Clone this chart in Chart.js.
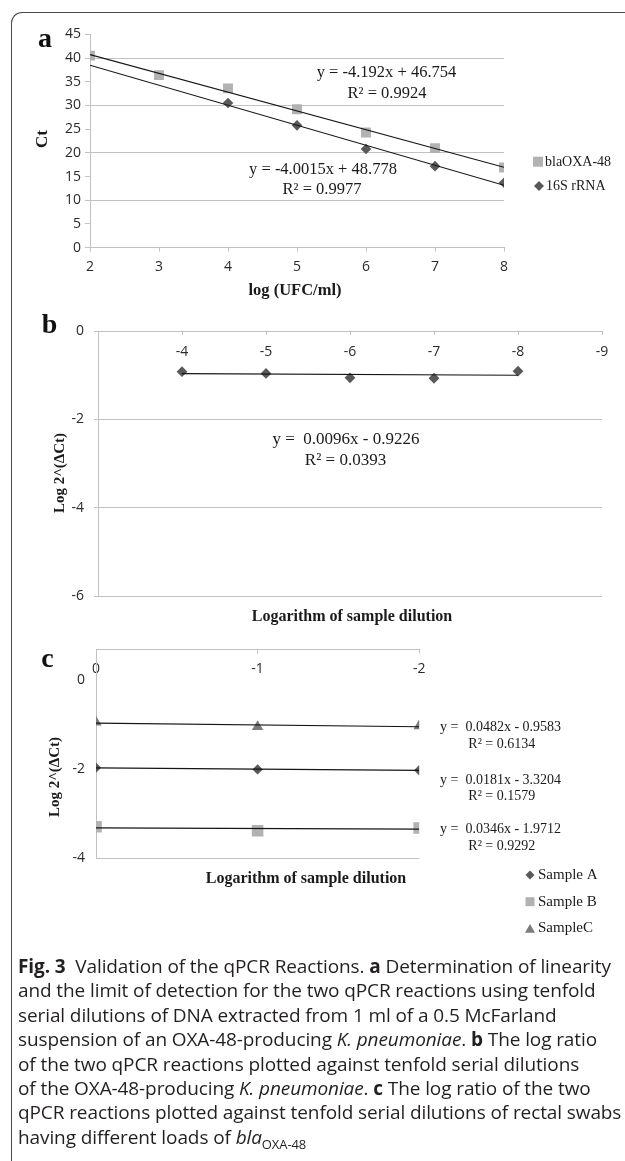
<!DOCTYPE html>
<html>
<head>
<meta charset="utf-8">
<script src="https://cdn.jsdelivr.net/npm/chart.js@4.4.1/dist/chart.umd.min.js"></script>
<style>
  body { margin: 0; background: #fff; width: 625px; height: 1161px; overflow: hidden; position: relative; }
  .frame { position: absolute; left: 11px; top: 12px; width: 700px; height: 1200px;
           border-top: 1.5px solid #4a4a4a; border-left: 1.5px solid #4a4a4a; border-top-left-radius: 11px; }
  canvas { position: absolute; left: 0; }
  #caption { position: absolute; left: 18px; top: 954px; font-family: 'Open Sans'; font-size: 19px;
             line-height: 24.4px; color: #231f20; white-space: nowrap; letter-spacing: -0.1px; }
</style>
</head>
<body>
<div class="frame"></div>
<canvas id="chartA" width="625" height="300" style="top:0px"></canvas>
<canvas id="chartB" width="625" height="330" style="top:300px"></canvas>
<canvas id="chartC" width="625" height="330" style="top:630px"></canvas>
<div id="caption"><b>Fig. 3</b>&nbsp; Validation of the qPCR Reactions. <b>a</b> Determination of linearity<br>and the limit of detection for the two qPCR reactions using tenfold<br>serial dilutions of DNA extracted from 1 ml of a 0.5 McFarland<br>suspension of an OXA-48-producing <i>K. pneumoniae</i>. <b>b</b> The log ratio<br>of the two qPCR reactions plotted against tenfold serial dilutions<br>of the OXA-48-producing <i>K. pneumoniae</i>. <b>c</b> The log ratio of the two<br>qPCR reactions plotted against tenfold serial dilutions of rectal swabs<br>having different loads of <i>bla</i><sub style="font-size:13px">OXA-48</sub></div>
<script>
// panel a: Ct vs log(UFC/ml)
const aLogUfc = [2, 3, 4, 5, 6, 7, 8];
const aBlaOxa48 = [40.5, 36.4, 33.6, 29.2, 24.3, 21.0, 16.9];
const a16sLogUfc = [4, 5, 6, 7, 8];
const a16sRrna = [30.5, 25.8, 20.8, 17.2, 13.7];
const aEquations = ['y = -4.192x + 46.754', 'R² = 0.9924', 'y = -4.0015x + 48.778', 'R² = 0.9977'];
const aLegend = ['blaOXA-48', '16S rRNA'];

// panel b: log ratio vs dilution
const bDilution = [-4, -5, -6, -7, -8];
const bLogRatio = [-0.92, -0.96, -1.06, -1.07, -0.91];
const bEquations = ['y =  0.0096x - 0.9226', 'R² = 0.0393'];

// panel c: rectal swabs
const cDilution = [0, -1, -2];
const cSampleA = [-1.96, -2.00, -2.02];
const cSampleB = [-3.29, -3.38, -3.32];
const cSampleC = [-0.94, -1.04, -1.02];
const cYTicks = [0, -2, -4];
const cEquations = ['y =  0.0482x - 0.9583', 'R² = 0.6134', 'y =  0.0181x - 3.3204', 'R² = 0.1579', 'y =  0.0346x - 1.9712', 'R² = 0.9292'];
const cLegend = ['Sample A', 'Sample B', 'SampleC'];

const SQUARE = '#b2b2b2';
const DIAMOND = '#595959';
const TRIANGLE = '#7b7b7b';
const AXIS = '#c2c2c2';
const TICK_FONT = { family: 'Open Sans', size: 14 };
const TICK_COLOR = '#2a2a2a';
const SERIF = '"Liberation Serif", "Times New Roman", serif';

document.addEventListener('DOMContentLoaded', init);

function toPoints(xs, ys) {
    return xs.map((x, i) => ({ x: x, y: ys[i] }));
}

// least squares line through the series, evaluated at the two ends
function trendLine(xs, ys, from, to) {
    const n = xs.length;
    const mx = xs.reduce((s, v) => s + v, 0) / n;
    const my = ys.reduce((s, v) => s + v, 0) / n;
    let sxy = 0, sxx = 0;
    xs.forEach((x, i) => {
        sxy += (x - mx) * (ys[i] - my);
        sxx += (x - mx) * (x - mx);
    });
    const m = sxy / sxx;
    return [from, to].map(x => ({ x: x, y: my + m * (x - mx) }));
}

function trendSet(data) {
    return { data: data, showLine: true, borderColor: '#151515', borderWidth: 1.2, pointRadius: 0, fill: false };
}

function markerSet(data, style, color, radius) {
    return { data: data, showLine: false, pointStyle: style, pointRadius: radius,
             pointBackgroundColor: color, pointBorderColor: color, pointBorderWidth: 0 };
}

function text(ctx, str, x, y, font, align, angle) {
    ctx.save();
    ctx.font = font;
    ctx.fillStyle = '#1a1a1a';
    ctx.textAlign = align || 'center';
    ctx.textBaseline = 'middle';
    ctx.translate(x, y);
    if (angle) ctx.rotate(angle);
    ctx.fillText(str, 0, 0);
    ctx.restore();
}

function panelLetter(ctx, str, x, baseline) {
    ctx.save();
    ctx.font = 'bold 28px ' + SERIF;
    ctx.fillStyle = '#111';
    ctx.textAlign = 'center';
    ctx.textBaseline = 'alphabetic';
    ctx.fillText(str, x, baseline);
    ctx.restore();
}

function marker(ctx, style, x, y, size, color) {
    ctx.save();
    ctx.fillStyle = color;
    ctx.beginPath();
    if (style === 'rect') {
        ctx.rect(x - size / 2, y - size / 2, size, size);
    } else if (style === 'rectRot') {
        ctx.moveTo(x, y - size / 2);
        ctx.lineTo(x + size / 2, y);
        ctx.lineTo(x, y + size / 2);
        ctx.lineTo(x - size / 2, y);
    } else {
        const h = size * 0.87;
        ctx.moveTo(x, y - h / 2);
        ctx.lineTo(x + size / 2, y + h / 2);
        ctx.lineTo(x - size / 2, y + h / 2);
    }
    ctx.closePath();
    ctx.fill();
    ctx.restore();
}

function overlay(draw) {
    return { id: 'overlay', afterDraw: chart => draw(chart.ctx, chart) };
}

function baseOptions(padding, scales) {
    return {
        responsive: false,
        animation: false,
        events: [],
        layout: { padding: padding },
        plugins: { legend: { display: false }, tooltip: { enabled: false } },
        scales: scales
    };
}

function init() {
    const aCtx = document.getElementById('chartA');
    if (aCtx) {
        new Chart(aCtx, {
            type: 'scatter',
            data: {
                datasets: [
                    trendSet(trendLine(aLogUfc, aBlaOxa48, 2, 8)),
                    trendSet(trendLine(a16sLogUfc, a16sRrna, 2, 8)),
                    markerSet(toPoints(aLogUfc, aBlaOxa48), 'rect', SQUARE, 7),
                    markerSet(toPoints(a16sLogUfc, a16sRrna), 'rectRot', DIAMOND, 5.3)
                ]
            },
            options: baseOptions({ left: 0, top: 34.3, right: 121, bottom: 0 }, {
                x: {
                    type: 'linear', min: 2, max: 8,
                    ticks: { stepSize: 1, padding: 7, font: TICK_FONT, color: TICK_COLOR },
                    grid: { drawOnChartArea: false, tickLength: 4, tickColor: AXIS },
                    border: { color: AXIS },
                    afterFit: s => { s.height = 52.3; }
                },
                y: {
                    min: 0, max: 45,
                    ticks: { stepSize: 5, padding: 4, font: TICK_FONT, color: TICK_COLOR },
                    grid: {
                        color: c => (c.tick && c.tick.value > 0 && c.tick.value % 10 === 0) ? AXIS : 'rgba(0,0,0,0)',
                        tickColor: AXIS, tickLength: 5
                    },
                    border: { color: AXIS },
                    afterFit: s => { s.width = 90; }
                }
            }),
            plugins: [overlay(ctx => {
                panelLetter(ctx, 'a', 45, 47);
                text(ctx, 'Ct', 43, 139, 'bold 17px ' + SERIF, 'center', -Math.PI / 2);
                text(ctx, 'log (UFC/ml)', 295, 291, 'bold 16.5px ' + SERIF);
                text(ctx, aEquations[0], 386.5, 72.7, '16.5px ' + SERIF);
                text(ctx, aEquations[1], 387, 93.3, '16.5px ' + SERIF);
                text(ctx, aEquations[2], 323, 170, '16.5px ' + SERIF);
                text(ctx, aEquations[3], 322, 190, '16.5px ' + SERIF);
                marker(ctx, 'rect', 538, 161.7, 10, SQUARE);
                text(ctx, aLegend[0], 545, 162, '14px ' + SERIF, 'left');
                marker(ctx, 'rectRot', 539, 186, 10, DIAMOND);
                text(ctx, aLegend[1], 546, 186, '14px ' + SERIF, 'left');
            })]
        });
    }

    const bCtx = document.getElementById('chartB');
    if (bCtx) {
        new Chart(bCtx, {
            type: 'scatter',
            data: {
                datasets: [
                    trendSet(trendLine(bDilution, bLogRatio, -4, -8)),
                    markerSet(toPoints(bDilution, bLogRatio), 'rectRot', DIAMOND, 5.4)
                ]
            },
            options: baseOptions({ left: 0, top: 0, right: 23, bottom: 34 }, {
                x: {
                    type: 'linear', position: 'top', min: -9, max: -3, reverse: true,
                    ticks: { stepSize: 1, mirror: true, padding: 12.3, font: TICK_FONT, color: TICK_COLOR,
                             callback: v => (v === -3 ? '' : v) },
                    grid: { drawOnChartArea: false, tickLength: -4, tickColor: AXIS },
                    border: { color: AXIS },
                    afterFit: s => { s.height = 31; }
                },
                y: {
                    min: -6, max: 0,
                    ticks: { stepSize: 2, padding: 10, font: TICK_FONT, color: TICK_COLOR },
                    grid: {
                        color: c => (c.tick && c.tick.value !== 0) ? AXIS : 'rgba(0,0,0,0)',
                        tickColor: AXIS, tickLength: 4
                    },
                    border: { color: AXIS },
                    afterFit: s => { s.width = 98; }
                }
            }),
            plugins: [overlay(ctx => {
                panelLetter(ctx, 'b', 49.5, 33);
                text(ctx, 'Log 2^(ΔCt)', 60, 173, 'bold 15px ' + SERIF, 'center', -Math.PI / 2);
                text(ctx, 'Logarithm of sample dilution', 352, 317, 'bold 16px ' + SERIF);
                text(ctx, bEquations[0], 346, 139.3, '17px ' + SERIF);
                text(ctx, bEquations[1], 345.5, 160.7, '17px ' + SERIF);
            })]
        });
    }

    const cCtx = document.getElementById('chartC');
    if (cCtx) {
        new Chart(cCtx, {
            type: 'scatter',
            data: {
                datasets: [
                    trendSet(trendLine(cDilution, cSampleC, 0, -2)),
                    trendSet(trendLine(cDilution, cSampleA, 0, -2)),
                    trendSet(trendLine(cDilution, cSampleB, 0, -2)),
                    markerSet(toPoints(cDilution, cSampleA), 'rectRot', DIAMOND, 5.2),
                    markerSet(toPoints(cDilution, cSampleB), 'rect', SQUARE, 8.2),
                    markerSet(toPoints(cDilution, cSampleC), 'triangle', TRIANGLE, 6.6)
                ]
            },
            options: baseOptions({ left: 0, top: 0, right: 205.8, bottom: 101.7 }, {
                x: {
                    type: 'linear', position: 'top', min: -2, max: 0, reverse: true,
                    ticks: { stepSize: 1, mirror: true, padding: 11, font: TICK_FONT, color: TICK_COLOR },
                    grid: { drawOnChartArea: false, tickLength: -4, tickColor: AXIS },
                    border: { color: AXIS },
                    afterFit: s => { s.height = 19.3; }
                },
                y: {
                    min: -4, max: 0.7,
                    afterBuildTicks: s => { s.ticks = cYTicks.map(v => ({ value: v })); },
                    ticks: { padding: 11, font: TICK_FONT, color: TICK_COLOR },
                    grid: {
                        color: c => (c.tick && c.tick.value === -4) ? AXIS : 'rgba(0,0,0,0)',
                        drawTicks: false
                    },
                    border: { color: AXIS },
                    afterFit: s => { s.width = 96; }
                }
            }),
            plugins: [overlay(ctx => {
                panelLetter(ctx, 'c', 47.5, 37);
                text(ctx, 'Log 2^(ΔCt)', 55.5, 147, 'bold 15px ' + SERIF, 'center', -Math.PI / 2);
                text(ctx, 'Logarithm of sample dilution', 306, 249, 'bold 16px ' + SERIF);
                const eqY = [97.7, 114.3, 150, 166, 199.3, 216];
                cEquations.forEach((eq, i) => {
                    text(ctx, eq, i % 2 === 0 ? 440 : 468.3, eqY[i], '14px ' + SERIF, 'left');
                });
                const styles = [['rectRot', DIAMOND, 9], ['rect', SQUARE, 9], ['triangle', TRIANGLE, 10]];
                cLegend.forEach((name, i) => {
                    const y = 245 + i * 26.7;
                    marker(ctx, styles[i][0], 530, y, styles[i][2], styles[i][1]);
                    text(ctx, name, 538, y, '15px ' + SERIF, 'left');
                });
            })]
        });
    }
}
</script>
</body>
</html>
